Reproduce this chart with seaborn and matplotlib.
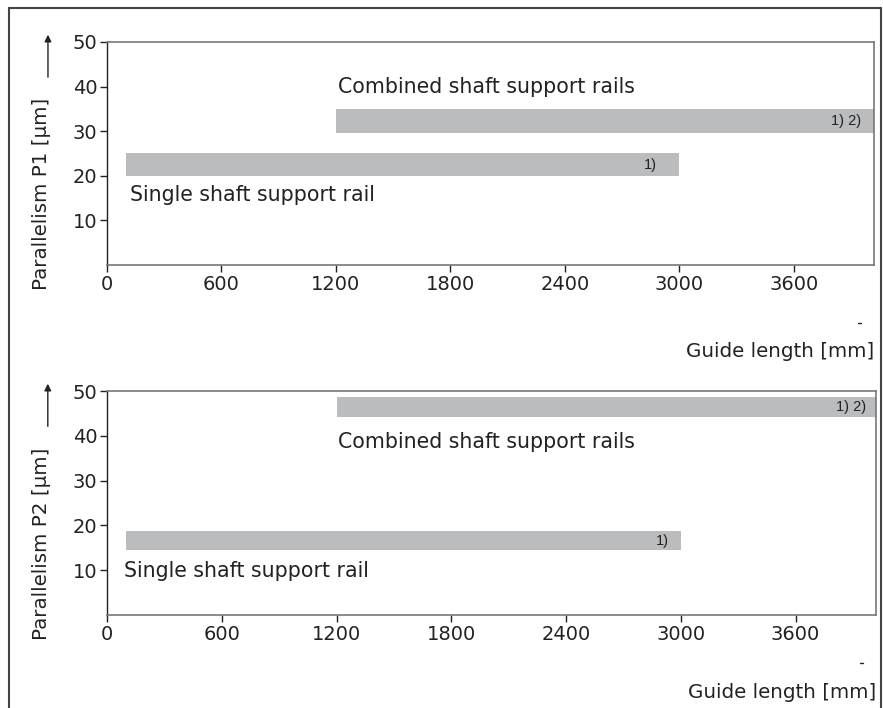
import seaborn as sns
import pandas as pd
import matplotlib.pyplot as plt
from matplotlib.lines import Line2D

# Bars: (panel, rail type, start length, end length, low, high)
panels = ["P1", "P2"]
rail_types = ["Single shaft support rail", "Combined shaft support rails"]
length_start = [100, 1200, 100, 1200]
length_end = [3000, 4020, 3000, 4020]
par_low = [20, 29.7, 14.4, 44.3]
par_high = [25, 35, 18.8, 48.7]
notes = ["1)", "1) 2)", "1)", "1) 2)"]
bar_panel = ["P1", "P1", "P2", "P2"]
bar_type = rail_types + rail_types

# label positions (guide length, parallelism)
label_x = [[120, 1210], [90, 1210]]
label_y = [[15.6, 40.0], [9.8, 38.6]]
note_x = [2880, 3955, 2935, 3970]

x_ticks = [0, 600, 1200, 1800, 2400, 3000, 3600]
y_ticks = [10, 20, 30, 40, 50]

df = pd.DataFrame({
    "panel": bar_panel, "type": bar_type,
    "start": length_start, "end": length_end,
    "low": par_low, "high": par_high, "note": notes,
})
df["note_x"] = note_x

sns.set_theme(style="ticks")
plt.rcParams["font.family"] = ["DejaVu Sans"]

fig = plt.figure(figsize=(8.83, 7.08), dpi=100)
axes = [fig.add_axes([0.1212, 0.6257, 0.8686, 0.315]),
        fig.add_axes([0.1212, 0.1314, 0.8708, 0.3163])]
xlabel_off = [-0.39, -0.345]

grey = "#bbbcbe"
ink = "#222222"
for i, (ax, p) in enumerate(zip(axes, panels)):
    sub = df[df["panel"] == p]
    ax.barh((sub["low"] + sub["high"]) / 2, sub["end"] - sub["start"],
            height=sub["high"] - sub["low"], left=sub["start"],
            color=grey, edgecolor="none")
    for _, r in sub.iterrows():
        ax.text(r["note_x"], (r["low"] + r["high"]) / 2, r["note"],
                ha="right", va="center", fontsize=10.5, color=ink,
                family="Liberation Sans")
    for j, t in enumerate(rail_types):
        ax.text(label_x[i][j], label_y[i][j], t, ha="left", va="center",
                fontsize=14.8, color=ink)
    ax.set_xlim(0, 4020)
    ax.set_ylim(0, 50)
    ax.set_xticks(x_ticks)
    ax.set_yticks(y_ticks)
    ax.tick_params(labelsize=14, length=5, width=1, colors=ink, pad=2)
    for s in ["top", "right", "bottom"]:
        ax.spines[s].set_color("#777777")
        ax.spines[s].set_linewidth(1.2)
    ax.spines["left"].set_color(ink)
    ax.spines["left"].set_linewidth(1)
    ax.set_ylabel("")
    # rotated y label with arrow
    ax.text(-0.085, -0.11, f"Parallelism {p} [µm]",
            transform=ax.transAxes, rotation=90, ha="center", va="bottom",
            fontsize=14.3, color=ink)
    ax.annotate("", xy=(-0.077, 1.045), xytext=(-0.077, 0.83),
                xycoords="axes fraction",
                arrowprops=dict(arrowstyle="-|>", color=ink, lw=1,
                                mutation_scale=10))
    ax.text(1.0, xlabel_off[i], "Guide length [mm]", transform=ax.transAxes,
            ha="right", va="center", fontsize=14.3, color=ink)
    # small leftover tick mark above the axis title
    ax.plot([0.979, 0.983], [xlabel_off[i] + 0.13] * 2, color=ink, lw=1,
            transform=ax.transAxes, clip_on=False)

# outer frame lines
for coords in [([9 / 883, 9 / 883], [0, 1 - 8 / 708]),
               ([9 / 883, 881 / 883], [1 - 8 / 708, 1 - 8 / 708]),
               ([881 / 883, 881 / 883], [0, 1 - 8 / 708])]:
    fig.add_artist(Line2D(coords[0], coords[1], color="#444444", lw=1.5,
                          transform=fig.transFigure))

plt.savefig("out.png", dpi=100)
